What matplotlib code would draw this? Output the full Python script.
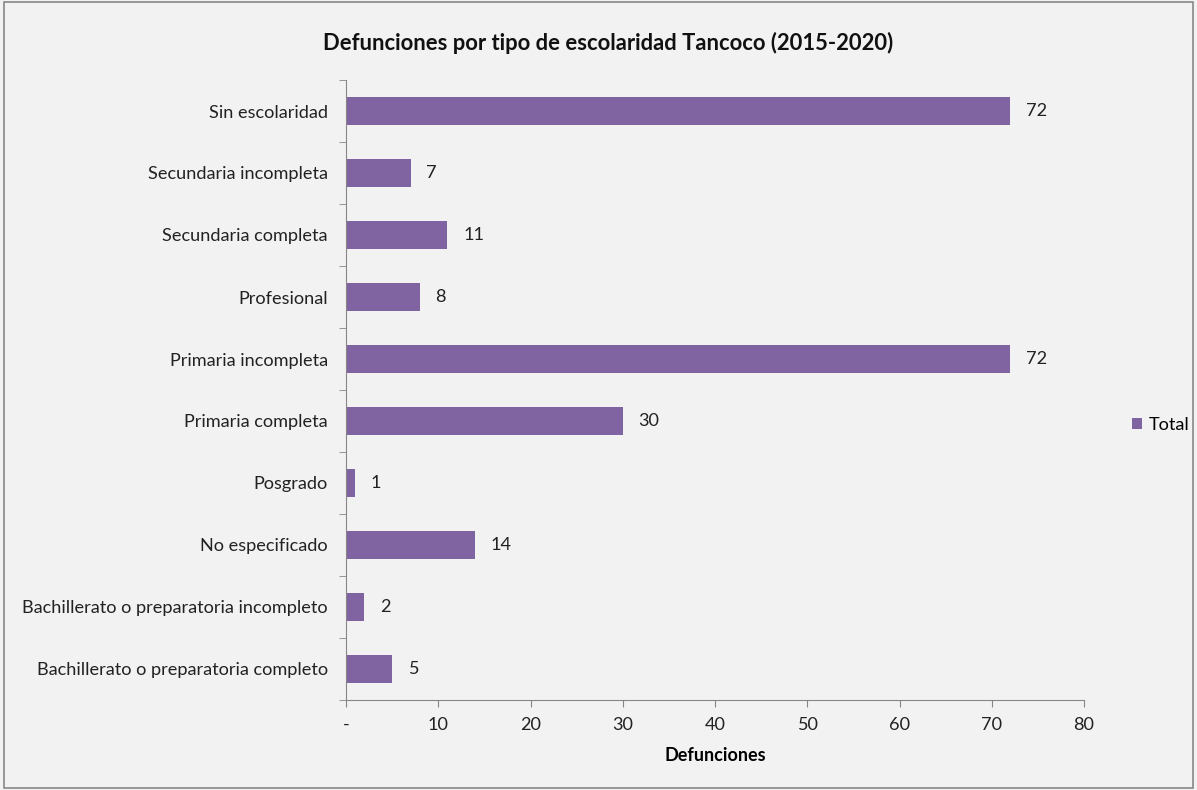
import matplotlib.pyplot as plt
from matplotlib.patches import Rectangle
import numpy as np

categorias = ["Bachillerato o preparatoria completo",
              "Bachillerato o preparatoria incompleto",
              "No especificado",
              "Posgrado",
              "Primaria completa",
              "Primaria incompleta",
              "Profesional",
              "Secundaria completa",
              "Secundaria incompleta",
              "Sin escolaridad"]
totales = [5, 2, 14, 1, 30, 72, 8, 11, 7, 72]
xticks = [0, 10, 20, 30, 40, 50, 60, 70, 80]
xlabels = ["-", "10", "20", "30", "40", "50", "60", "70", "80"]

BG = "#f2f2f2"
BAR = "#8064a2"
GRIS = "#868686"
FS = 13.1

plt.rcParams['font.family'] = ['Lato', 'DejaVu Sans']

fig = plt.figure(figsize=(11.97, 7.9), dpi=100, facecolor=BG)
ax = fig.add_axes([346/1197, 90/790, (1084-346)/1197, (700-80)/790])
ax.set_facecolor(BG)

y = np.arange(len(categorias))
bars = ax.barh(y, totales, height=0.44, color=BAR, label="Total")
for b, v in zip(bars, totales):
    ax.text(v + 1.7, b.get_y() + b.get_height()/2, str(v), va='center', ha='left',
            fontsize=FS, color="#222222")

ax.set_xlim(0, 80)
ax.set_ylim(-0.5, len(categorias) - 0.5)
ax.set_xticks(xticks)
ax.set_xticklabels(xlabels, fontsize=FS, color="#222222")
ax.set_yticks(y)
ax.set_yticklabels(categorias, fontsize=FS, color="#222222")
ax.set_yticks(np.arange(-0.5, len(categorias), 1), minor=True)
ax.tick_params(axis='y', which='major', length=0, pad=13)
ax.tick_params(axis='y', which='minor', length=5, color=GRIS, direction='out')
ax.tick_params(axis='x', length=5, color=GRIS, direction='out', pad=7)

for s in ['top', 'right']:
    ax.spines[s].set_visible(False)
for s in ['left', 'bottom']:
    ax.spines[s].set_color(GRIS)

ax.set_xlabel("Defunciones", fontsize=13, fontweight='bold', labelpad=10)

fig.text(608/1197, 1 - 43/790, "Defunciones por tipo de escolaridad Tancoco (2015-2020)",
         ha='center', va='center', fontsize=15.8, fontweight='bold', color="#111111")

ax.legend(loc='center left', bbox_to_anchor=(1.055, 0.444), frameon=False,
          fontsize=FS, handlelength=0.55, handleheight=0.55, handletextpad=0.4,
          borderaxespad=0)

fig.patches.append(Rectangle((0.003, 0.003), 0.994, 0.994, transform=fig.transFigure,
                             fill=False, edgecolor="#888888", linewidth=1.2))

fig.savefig("out.png", dpi=100, facecolor=BG)
